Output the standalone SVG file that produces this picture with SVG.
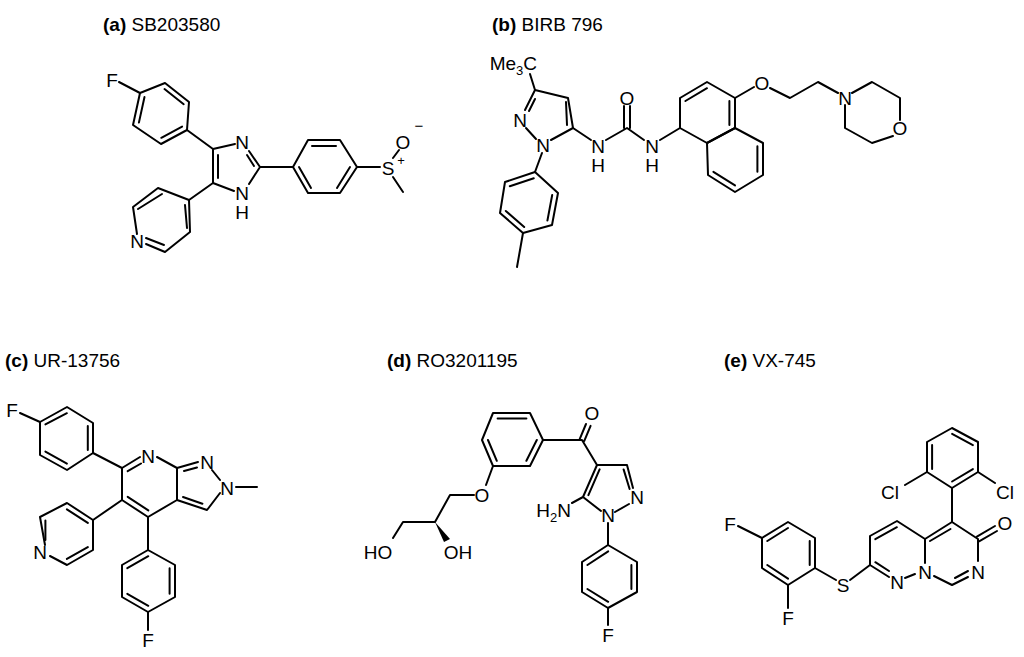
<svg xmlns="http://www.w3.org/2000/svg" width="1024" height="657" viewBox="0 0 1024 657">
<style>
.b{stroke:#000;stroke-width:2;fill:none;stroke-linecap:round;stroke-linejoin:round}
.a{font-family:"Liberation Sans",Arial,sans-serif;font-size:19px;text-anchor:middle;fill:#000}
.t{font-family:"Liberation Sans",Arial,sans-serif;font-size:19px;fill:#000}
</style>
<rect width="1024" height="657" fill="#fff"/>
<g id="titles" class="t">
<text x="103" y="31"><tspan font-weight="bold">(a)</tspan> SB203580</text>
<text x="492" y="31"><tspan font-weight="bold">(b)</tspan> BIRB 796</text>
<text x="5" y="367"><tspan font-weight="bold">(c)</tspan> UR-13756</text>
<text x="387" y="367"><tspan font-weight="bold">(d)</tspan> RO3201195</text>
<text x="724" y="367"><tspan font-weight="bold">(e)</tspan> VX-745</text>
</g>
<g id="molA">
<g class="b">
<polygon points="140,93 165,83 189,102 187,130 161,144 133,125"/>
<path d="M164.5,89L183.7,104.2M182.1,126.6L161.3,137.8M138.9,122.6L144.5,97"/>
<path d="M140,93L119,82M187,130L213,149M189,200L213,183M260,167L293,167M357,167L380,167M393,158L399,150M393,177L403,192"/>
<path d="M137,234L133,207L158,188L189,200L190,232L165,252L146,244"/>
<path d="M162,194L138,209M164,245L146,238M187,228L185,205"/>
<path d="M213,183L213,149L235,144M249,151L260,167L249,184M234,191L213,183"/>
<path d="M218,155L218,178M247,155L254,166"/>
<polygon points="293,167 308,140 340,140 357,167 340,193 308,193"/>
<path d="M312,146L336,146M350,167L337,188M311,188L299,167"/>
</g>
<g class="a">
<text x="112" y="87">F</text>
<text x="242" y="149">N</text>
<text x="242" y="200">N</text>
<text x="242" y="219">H</text>
<text x="137" y="248">N</text>
<text x="388" y="175">S</text>
<text x="403" y="149">O</text>
<text x="419" y="131" style="font-size:15px">−</text>
<text x="401" y="165" style="font-size:13px">+</text>
</g>
</g>
<g id="molB">
<g class="b">
<path d="M535,90L568,98L573,128L551,140M535,90L525,110M536,139L526,128"/>
<path d="M535,99L529,111M566,102L567,125"/>
<path d="M530,74L535,90M573,128L591,140M606,140L627,128L644,140M624,106L624,128M630,106L630,128M660,140L680,128"/>
<polygon points="680,128 680,98 707,82 735,98 735,128 707,143"/>
<polygon points="735,128 763,143 763,175 735,192 708,175 707,143"/>
<path d="M685.4,101L707,88.2M729.4,101L729.4,125M757.4,146.2L757.4,171.8M735,185.4L713.4,171.8"/>
<path d="M735,98L754,87M770,88L790,98L818,82L838,93"/>
<path d="M852,93L872,82L900,98L900,120M893,136L872,143L845,128L845,105"/>
<path d="M542,153L535,172"/>
<polygon points="535,172 558,193 552,225 523,233 500,213 505,182"/>
<path d="M533.8,178.2L509.8,186.2M552.2,195L547.4,220.6M524.2,227L505.8,211M523,233L517,267"/>
</g>
<g class="a">
<text x="537" y="70" style="text-anchor:end">Me<tspan font-size="13" dy="5">3</tspan><tspan dy="-5">C</tspan></text>
<text x="520" y="127">N</text>
<text x="543" y="152">N</text>
<text x="598" y="153">N</text>
<text x="598" y="172">H</text>
<text x="627" y="105">O</text>
<text x="652" y="153">N</text>
<text x="652" y="172">H</text>
<text x="762" y="90">O</text>
<text x="845" y="105">N</text>
<text x="900" y="135">O</text>
</g>
</g>
<g id="molC">
<g class="b">
<polygon points="40,422 67,407 93,423 93,453 67,470 40,455"/>
<path d="M45.4,424.4L66.9,413.2M87.8,426L87.8,450M66.9,463.6L45.4,451.6M40,422L20,413M93,453L122,468"/>
<path d="M140,457L122,468L122,500L148,517L177,500L177,468L157,457"/>
<path d="M127.7,471.2L141,463.5M148.3,510.4L127.7,496.8"/>
<path d="M177,468L198,462M212,470L220,480M220,493L207,510L177,500"/>
<path d="M184,471L197,467.5M183,497L202.4,503.7M236,487L257,487"/>
<path d="M122,500L93,520M148,517L148,550"/>
<path d="M45,545L40,517L67,503L93,520L93,550L67,565L50,556"/>
<path d="M66.9,509.3L87.8,522.9M45.4,520.5L45.4,540M66.9,558.9L87.8,547.1"/>
<polygon points="148,550 175,565 175,597 148,612 122,597 122,565"/>
<path d="M127.3,568.2L148.3,556.2M169.6,568.2L169.6,593.8M148.3,605.8L127.3,593.8M148,612L148,630"/>
</g>
<g class="a">
<text x="12" y="417">F</text>
<text x="148" y="463">N</text>
<text x="207" y="469">N</text>
<text x="227" y="495">N</text>
<text x="40" y="559">N</text>
<text x="148" y="647">F</text>
</g>
</g>
<g id="molD">
<g class="b">
<polygon points="482,440 493,413 530,413 543,440 530,466 493,466"/>
<path d="M497.6,418.4L526.4,418.4M536.8,440L526.4,460.8M496.8,460.8L488,440"/>
<path d="M543,440L582,440L597,465M579.7,439.1L586,424M584.3,440.9L590.6,425.8"/>
<path d="M627,465L597,465L583,497L572,503M627,465L633,488M629,504L615,512M601,511L583,497"/>
<path d="M599.6,469.4L588.4,495.2M623.6,469.4L629.6,489M608,523L608,545"/>
<polygon points="608,545 637,562 637,592 608,608 582,592 582,562"/>
<path d="M587.4,565L608.2,551.4M631.4,565L631.4,589M608.2,601.8L587.4,589M608,608L608,625"/>
<path d="M493,466L486,485M474,495L450,495L435,522L403,522L393,538"/>
</g>
<polygon points="435,522 444,542 450,539" fill="#000"/>
<g class="a">
<text x="592" y="420">O</text>
<text x="637" y="504">N</text>
<text x="608" y="522">N</text>
<text x="571" y="517" style="text-anchor:end">H<tspan font-size="13" dy="5">2</tspan><tspan dy="-5">N</tspan></text>
<text x="608" y="642">F</text>
<text x="482" y="502">O</text>
<text x="378" y="559">HO</text>
<text x="458" y="559">OH</text>
</g>
</g>
<g id="molE">
<g class="b">
<polygon points="927,442 952,428 978,442 978,472 952,488 927,472"/>
<path d="M932.1,445.1L932.1,469.1M952.1,433.9L972.9,445.1M972.9,469.1L952.1,481.5"/>
<path d="M927,472L905,485M978,472L995,483M952,488L952,522"/>
<path d="M968,577L952,585L934,576M925,563L925,539L952,522L978,539L978,561"/>
<path d="M950.5,529L930,541M955,578L968,571M976.9,536.7L995,526M979.1,541.3L997,531"/>
<path d="M925,539L897,521L870,536L870,565L889,577M905,578L915,574"/>
<path d="M896.9,527.2L875.3,539.2M875.3,562.2L889,571M870,565L850,580M836,580L815,568"/>
<polygon points="815,568 815,538 788,522 762,538 762,568 788,585"/>
<path d="M809.7,565L809.7,541M788,528L767.3,541M767.3,565L788,578.6M762,538L738,526M788,585L788,608"/>
</g>
<g class="a">
<text x="890" y="499">Cl</text>
<text x="1005" y="499">Cl</text>
<text x="1005" y="530">O</text>
<text x="978" y="579">N</text>
<text x="925" y="579">N</text>
<text x="897" y="589">N</text>
<text x="843" y="592">S</text>
<text x="730" y="531">F</text>
<text x="788" y="625">F</text>
</g>
</g>
</svg>
